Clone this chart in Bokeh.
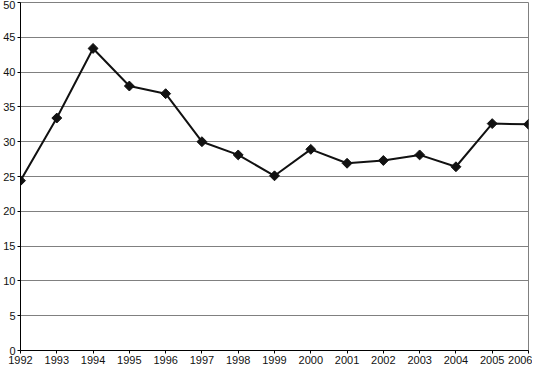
import math
from bokeh.plotting import figure
from bokeh.models import Range1d, FixedTicker
from bokeh.embed import file_html
from bokeh.resources import INLINE

years = [1992, 1993, 1994, 1995, 1996, 1997, 1998, 1999, 2000, 2001, 2002, 2003, 2004, 2005, 2006]
values = [24.4, 33.4, 43.4, 38.0, 36.9, 30.0, 28.1, 25.1, 28.9, 26.9, 27.3, 28.1, 26.4, 32.6, 32.5]
y_ticks = [0, 5, 10, 15, 20, 25, 30, 35, 40, 45, 50]

p = figure(width=532, height=366, output_backend="svg", toolbar_location=None,
           x_range=Range1d(1992, 2006), y_range=Range1d(0, 50))
p.min_border_top = 2
p.min_border_right = 4
p.min_border_left = 0
p.min_border_bottom = 0

p.outline_line_color = "#808080"
p.outline_line_width = 1
p.background_fill_color = "white"
p.border_fill_color = "white"

p.xgrid.grid_line_color = None
p.ygrid.grid_line_color = "#808080"
p.ygrid.grid_line_width = 1

for ax in (p.xaxis[0], p.yaxis[0]):
    ax.axis_line_color = "#000000"
    ax.axis_line_width = 1
    ax.major_tick_line_color = "#000000"
    ax.major_tick_in = 0
    ax.major_tick_out = 3
    ax.minor_tick_line_color = None
    ax.major_label_text_font = "Liberation Sans"
    ax.major_label_text_font_size = "11px"
    ax.major_label_text_color = "#111111"
    ax.major_label_text_line_height = 1.0
    ax.major_label_standoff = 2

p.xaxis.ticker = FixedTicker(ticks=years)
p.yaxis.ticker = FixedTicker(ticks=y_ticks)

p.line(years, values, line_color="#111111", line_width=2)
p.scatter(years, values, marker="square", size=7, angle=math.pi / 4,
          fill_color="#111111", line_color="#111111")

open("out.html", "w").write(file_html(p, INLINE))
